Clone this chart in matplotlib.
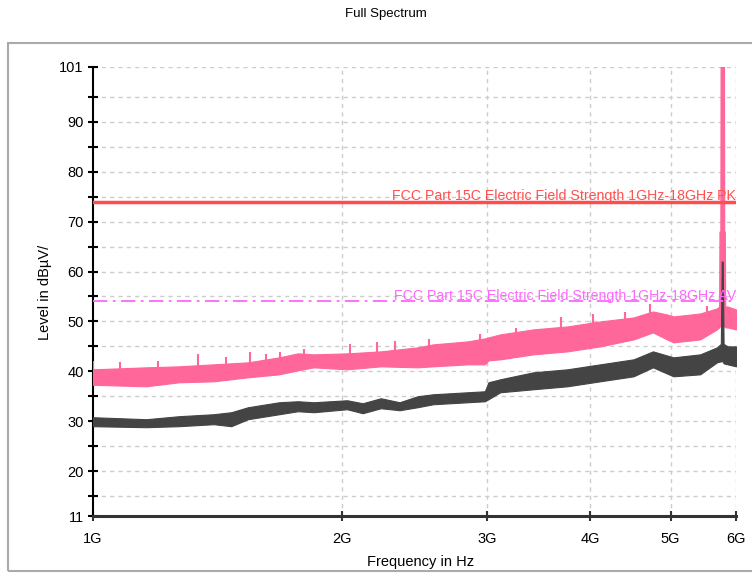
import numpy as np
import matplotlib
matplotlib.use('Agg')
import matplotlib.pyplot as plt
from matplotlib.patches import Rectangle
from matplotlib.ticker import FixedLocator, FixedFormatter, NullFormatter

plt.rcParams['font.family'] = ['Liberation Sans', 'DejaVu Sans']

# peak trace envelope (GHz, dBuV/m)
pk_freq = [1.00, 1.16, 1.27, 1.40, 1.54, 1.68, 1.77, 1.85, 2.03, 2.23, 2.47, 2.58,
           2.84, 2.98, 3.01, 3.11, 3.41, 3.75, 4.11, 4.51, 4.76, 4.95, 5.04, 5.43,
           5.69, 5.724, 5.730, 5.744, 5.748, 5.802, 5.806, 5.816, 5.822, 5.86, 6.00]
pk_top = [40.4, 40.8, 41.0, 41.4, 41.8, 42.8, 43.6, 43.4, 43.6, 44.0, 44.8, 45.4,
          46.0, 46.6, 46.8, 47.4, 48.4, 49.0, 50.0, 50.8, 52.0, 51.4, 51.0, 51.6,
          52.6, 53.0, 68.0, 68.0, 106.0, 106.0, 68.0, 68.0, 53.0, 53.0, 52.4]
pk_bot = [37.3, 37.0, 37.8, 38.0, 38.8, 39.4, 40.2, 40.8, 40.4, 41.0, 40.8, 41.0,
          41.4, 41.4, 42.2, 42.4, 43.4, 44.0, 45.0, 46.4, 47.8, 46.4, 45.8, 46.4,
          48.4, 48.8, 49.0, 49.0, 49.0, 49.0, 49.0, 49.0, 48.8, 48.8, 48.4]

# isolated peak-trace spikes
pk_spike_f = [1.00, 1.078, 1.20, 1.34, 1.45, 1.549, 1.62, 1.684, 1.80, 2.046, 2.207,
              2.32, 2.55, 2.94, 3.25, 3.68, 4.03, 4.40, 4.72, 5.53]
pk_spike_lvl = [42.0, 41.8, 42.0, 43.4, 42.8, 43.8, 43.4, 43.8, 44.4, 45.4, 45.8,
                46.0, 46.4, 47.4, 48.6, 50.8, 51.4, 51.8, 53.4, 53.0]

# average trace envelope
av_freq = [1.00, 1.16, 1.27, 1.40, 1.47, 1.54, 1.68, 1.77, 1.85, 2.03, 2.12, 2.23,
           2.35, 2.47, 2.58, 2.84, 2.98, 3.01, 3.11, 3.41, 3.75, 4.11, 4.51, 4.76,
           5.04, 5.43, 5.69, 5.752, 5.766, 5.782, 5.796, 5.86, 6.00]
av_top = [30.8, 30.4, 31.0, 31.4, 31.8, 32.8, 33.8, 34.0, 33.8, 34.2, 33.6, 34.6,
          33.8, 35.0, 35.4, 35.8, 36.0, 37.8, 38.4, 39.8, 40.4, 41.4, 42.4, 44.0,
          42.8, 43.4, 44.8, 45.5, 62.0, 62.0, 45.5, 45.0, 45.0]
av_bot = [29.0, 28.8, 29.0, 29.4, 29.0, 30.4, 31.4, 32.0, 31.8, 32.4, 31.6, 32.6,
          32.2, 32.8, 33.4, 33.8, 34.0, 34.4, 35.8, 36.4, 37.0, 38.0, 39.0, 40.8,
          39.0, 39.4, 41.8, 42.0, 42.0, 42.0, 41.6, 41.4, 41.0]

limit_pk = 74.0
limit_av = 54.0
limit_pk_text = "FCC Part 15C Electric Field Strength 1GHz-18GHz PK"
limit_av_text = "FCC Part 15C Electric Field Strength 1GHz-18GHz AV"

x_ticks = [1, 2, 3, 4, 5, 6]
x_labels = ["1G", "2G", "3G", "4G", "5G", "6G"]
y_ticks = [11, 20, 30, 40, 50, 60, 70, 80, 90, 101]
y_minor = [15, 25, 35, 45, 55, 65, 75, 85, 95]

W, H = 752, 574
fig = plt.figure(figsize=(W / 100, H / 100), dpi=100)
fig.patches.append(Rectangle((8 / W, 3 / H), 1.2, 1 - 46 / H, transform=fig.transFigure,
                             fill=False, edgecolor='#aaaaaa', linewidth=1.5))
ax = fig.add_axes([93 / W, 1 - 516 / H, (736 - 93) / W, (516 - 67) / H])

pk_color = '#ff6699'
av_color = '#444444'

ax.fill_between(np.array(pk_freq) * 1e9, pk_bot, pk_top, color=pk_color, linewidth=0.8, zorder=3)
sp_f = np.array(pk_spike_f)
sp_base = np.interp(np.log(sp_f), np.log(pk_freq), pk_bot)
ax.vlines(sp_f * 1e9, sp_base, pk_spike_lvl, color=pk_color, linewidth=1.5, zorder=3)
ax.fill_between(np.array(av_freq) * 1e9, av_bot, av_top, color=av_color, linewidth=0.8, zorder=4)

ax.axhline(limit_pk, color='#ff4d4d', linewidth=2.5, zorder=5)
ax.axhline(limit_av, color='#ff66ff', linewidth=1.3, linestyle=(0, (8, 3, 1.5, 3)), zorder=5)
ax.text(6e9, limit_pk + 0.3, limit_pk_text, color='#ff5050', fontsize=10.2,
        ha='right', va='baseline', zorder=6)
ax.text(6e9, limit_av + 0.3, limit_av_text, color='#ff66ff', fontsize=10.2,
        ha='right', va='baseline', zorder=6)

ax.set_xscale('log')
ax.set_xlim(1e9, 6e9)
ax.set_ylim(11, 101)
ax.xaxis.set_major_locator(FixedLocator([t * 1e9 for t in x_ticks]))
ax.xaxis.set_major_formatter(FixedFormatter(x_labels))
ax.xaxis.set_minor_locator(FixedLocator([]))
ax.xaxis.set_minor_formatter(NullFormatter())
ax.yaxis.set_major_locator(FixedLocator(y_ticks))
ax.yaxis.set_minor_locator(FixedLocator(y_minor))

for s in ['top', 'right']:
    ax.spines[s].set_visible(False)
ax.spines['left'].set_linewidth(1.5)
ax.spines['left'].set_color('black')
ax.spines['bottom'].set_linewidth(2.2)
ax.spines['bottom'].set_color('#333333')

ax.tick_params(axis='y', which='both', direction='inout', length=7.2, width=1.5,
               color='black', labelsize=10.5, pad=3.0)
ax.tick_params(axis='x', which='major', direction='inout', length=7.2, width=1.5,
               color='#333333', labelsize=10.5, pad=8)

# dashed grid at every 5 dB plus the top, and at each GHz
for yv in y_minor + y_ticks[1:]:
    ax.axhline(yv, color='#cccccc', linewidth=1, linestyle=(0, (3, 3)), zorder=1)
for xv in x_ticks[1:]:
    ax.axvline(xv * 1e9, color='#cccccc', linewidth=1, linestyle=(0, (3, 3)), zorder=1)

fig.text(386 / W, 1 - 14 / H, "Full Spectrum", ha='center', va='center', fontsize=9.5)
fig.text(421 / W, 1 - 562 / H, "Frequency in Hz", ha='center', va='center', fontsize=10.5)
fig.text(45 / W, 1 - 292 / H, "Level in dB\u00b5V/", ha='center', va='center',
         rotation=90, fontsize=10.5)

fig.savefig('out.png', dpi=100, facecolor='white')
